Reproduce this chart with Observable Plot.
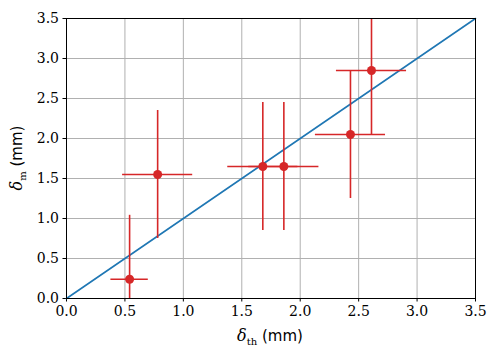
<!DOCTYPE html>
<html>
<head>
<meta charset="utf-8">
<script src="https://cdn.jsdelivr.net/npm/d3@7"></script>
<script src="https://cdn.jsdelivr.net/npm/@observablehq/plot@0.6"></script>
<style>
  html, body { margin: 0; padding: 0; background: #fff; }
  svg text.serif, svg g[aria-label="x-axis tick label"] text, svg g[aria-label="y-axis tick label"] text { font-family: "DejaVu Serif", serif !important; }
</style>
</head>
<body>
<div id="chart"></div>
<script>
// Measured data (mm)
const deltaTh = [0.54, 0.78, 1.68, 1.86, 2.43, 2.61];
const deltaM  = [0.24, 1.55, 1.65, 1.65, 2.05, 2.85];
const errTh   = [0.16, 0.30, 0.30, 0.30, 0.30, 0.30];
const errM    = [0.80, 0.80, 0.80, 0.80, 0.80, 0.80];
// Reference line y = x
const lineX = [0, 3.5];
// Tick values
const ticks = [0, 0.5, 1.0, 1.5, 2.0, 2.5, 3.0, 3.5];

const points = deltaTh.map((x, i) => ({x, y: deltaM[i], ex: errTh[i], ey: errM[i]}));
const line = lineX.map(v => ({x: v, y: v}));

const red = "#d62728";
const blue = "#1f77b4";
const serif = "DejaVu Serif";

const chart = Plot.plot({
  width: 498,
  height: 352,
  marginLeft: 66,
  marginRight: 23,
  marginTop: 18,
  marginBottom: 54,
  style: {fontFamily: serif, fontSize: "14px", color: "#000", background: "#fff"},
  x: {domain: [0, 3.5], ticks: ticks, tickFormat: d3.format(".1f"), label: null, tickSize: 3.5, tickPadding: 4},
  y: {domain: [0, 3.5], ticks: ticks, tickFormat: d3.format(".1f"), label: null, tickSize: 3.5, tickPadding: 4},
  marks: [
    Plot.ruleX(ticks, {stroke: "#b0b0b0", strokeWidth: 1}),
    Plot.ruleY(ticks, {stroke: "#b0b0b0", strokeWidth: 1}),
    Plot.line(line, {x: "x", y: "y", stroke: blue, strokeWidth: 1.6}),
    Plot.ruleY(points, {y: "y", x1: d => d.x - d.ex, x2: d => d.x + d.ex, stroke: red, strokeWidth: 1.6, clip: true}),
    Plot.ruleX(points, {x: "x", y1: d => d.y - d.ey, y2: d => d.y + d.ey, stroke: red, strokeWidth: 1.6, clip: true}),
    Plot.dot(points, {x: "x", y: "y", r: 4.5, fill: red, stroke: "none"}),
    Plot.frame({stroke: "#000", strokeWidth: 1})
  ]
});

const svg = d3.select(chart);
svg.selectAll("text").attr("font-family", serif).attr("font-size", 14).attr("fill", "#000");

// x axis label: δ_th (mm)
const xl = svg.append("text")
  .attr("x", 270).attr("y", 341)
  .attr("text-anchor", "middle")
  .attr("fill", "#000");
xl.append("tspan").attr("class", "serif").attr("font-family", serif).attr("font-style", "italic").attr("font-size", 16).text("δ");
xl.append("tspan").attr("font-family", serif).attr("font-size", 10).attr("dy", 4).text("th");
xl.append("tspan").attr("font-family", "DejaVu Sans").attr("font-size", 15).attr("dy", -4).text(" (mm)");

// y axis label: δ_m (mm)
const yl = svg.append("text")
  .attr("transform", "translate(22,158) rotate(-90)")
  .attr("text-anchor", "middle")
  .attr("fill", "#000");
yl.append("tspan").attr("font-family", serif).attr("font-style", "italic").attr("font-size", 16).text("δ");
yl.append("tspan").attr("font-family", serif).attr("font-size", 10).attr("dy", 4).text("m");
yl.append("tspan").attr("font-family", "DejaVu Sans").attr("font-size", 15).attr("dy", -4).text(" (mm)");

document.getElementById("chart").appendChild(chart);
</script>
</body>
</html>
